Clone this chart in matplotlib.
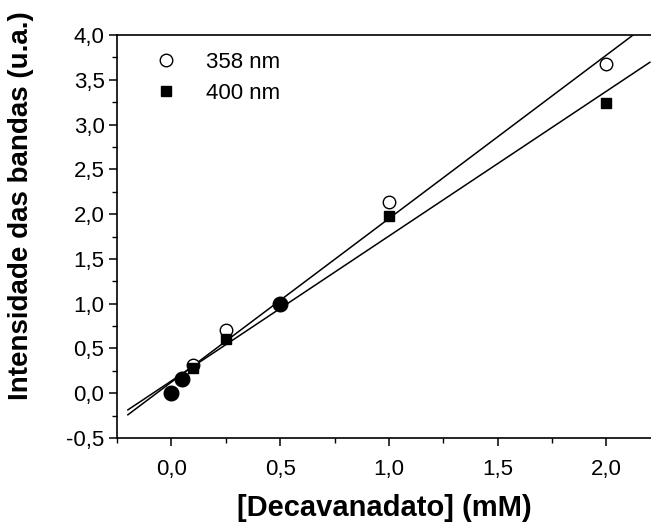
import numpy as np
import matplotlib
matplotlib.use("Agg")
import matplotlib.pyplot as plt
from matplotlib.ticker import MultipleLocator, FuncFormatter

plt.rcParams['font.family'] = ['Liberation Sans', 'DejaVu Sans']

# Decavanadate concentration (mM) and band intensities (a.u.)
conc = [0.0, 0.05, 0.1, 0.25, 0.5, 1.0, 2.0]
i358 = [0.0, 0.16, 0.31, 0.71, 1.0, 2.13, 3.68]
i400 = [0.0, 0.16, 0.28, 0.61, 1.0, 1.98, 3.24]
labels = ["358 nm", "400 nm"]

x = np.array(conc)
y1 = np.array(i358)
y2 = np.array(i400)

fig = plt.figure(figsize=(6.51, 5.23), dpi=100)
ax = fig.add_axes([117/651, 1 - 438/523, 1 - 117/651, (438 - 35)/523])

# linear fits over the plotted range
xf = np.array([-0.2, 2.2])
for yy in (y1, y2):
    k, b = np.polyfit(x, yy, 1)
    ax.plot(xf, k * xf + b, color='black', lw=1.1, zorder=2)

# points where both bands coincide are shown as filled circles
same = np.isclose(y1, y2)
ax.plot(x[~same], y1[~same], 'o', ms=9, mfc='white', mec='black', mew=1.0,
        zorder=3, label=labels[0])
ax.plot(x[~same], y2[~same], 's', ms=6.5, mfc='black', mec='black',
        zorder=4, label=labels[1])
ax.plot(x[same], y1[same], 'o', ms=10.5, mfc='black', mec='black', zorder=4)

ax.set_xlim(-0.25, 2.205)
ax.set_ylim(-0.5, 4.0)

ax.xaxis.set_major_locator(MultipleLocator(0.5))
ax.xaxis.set_minor_locator(MultipleLocator(0.25))
ax.yaxis.set_major_locator(MultipleLocator(0.5))
ax.yaxis.set_minor_locator(MultipleLocator(0.25))
fmt = FuncFormatter(lambda v, p: f"{v:.1f}".replace('.', ','))
ax.xaxis.set_major_formatter(fmt)
ax.yaxis.set_major_formatter(fmt)

ax.spines['right'].set_visible(False)
for s in ('left', 'bottom', 'top'):
    ax.spines[s].set_linewidth(1.2)
ax.tick_params(which='major', direction='out', length=6, width=1.1,
               labelsize=16, pad=3)
ax.tick_params(which='minor', direction='out', length=3.5, width=1.0)
ax.tick_params(top=False, right=False)
ax.tick_params(axis='x', pad=9)

ax.set_xlabel("[Decavanadato] (mM)", fontsize=21, fontweight='bold', labelpad=10)
ax.set_ylabel("Intensidade das bandas (u.a.)", fontsize=20, fontweight='bold')
ax.yaxis.set_label_coords(-0.155, 0.576)

ax.legend(loc='upper left', frameon=False, fontsize=16, handletextpad=1.2,
          handlelength=1.2, borderaxespad=0.0, labelspacing=0.45,
          bbox_to_anchor=(0.05, 0.98))

fig.savefig("out.png", dpi=100)
